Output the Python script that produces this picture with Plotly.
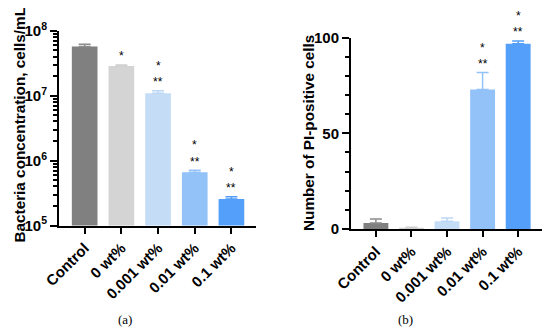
import math
import plotly.graph_objects as go

categories = ["Control", "0 wt%", "0.001 wt%", "0.01 wt%", "0.1 wt%"]
colors = ["#808080", "#d4d4d4", "#c5dcf7", "#93c2f8", "#539ff9"]
err_colors = ["#8c8c8c", "#d0d0d0", "#bcd6f5", "#93c2f8", "#539ff9"]

# (a) bacteria concentration, cells/mL
conc_values = [5.7e7, 2.87e7, 1.09e7, 6.6e5, 2.57e5]
conc_err = [0.5e7, 0.1e7, 0.1e7, 0.5e5, 0.19e5]
conc_sig_ctrl = [False, True, True, True, True]      # "*"
conc_sig_zero = [False, False, True, True, True]     # "**"
conc_ticks = [1e5, 1e6, 1e7, 1e8]
conc_ticktext = ["10<sup>5</sup>", "10<sup>6</sup>", "10<sup>7</sup>", "10<sup>8</sup>"]

# (b) number of PI-positive cells
pi_values = [3.1, 0.3, 4.0, 72.9, 96.9]
pi_err = [2.1, 0.6, 1.8, 8.9, 1.4]
pi_sig_ctrl = [False, False, False, True, True]
pi_sig_zero = [False, False, False, True, True]
pi_ticks = [0, 50, 100]

FONT = "Liberation Sans, Arial, sans-serif"
SERIF = "Liberation Serif, Times New Roman, serif"

# page body has an 8px margin: size the figure so it fits the 550x336 window
OFF = 8
W, H = 550 - 2 * OFF, 336 - 2 * OFF


def px(p):
    return min(1.0, max(0.0, (p - OFF) / W))


def py(p):
    return min(1.0, max(0.0, 1 - (p - OFF) / H))


fig = go.Figure()

for xa, ya, vals, errs in (("x", "y", conc_values, conc_err), ("x2", "y2", pi_values, pi_err)):
    for cat, v, e, c, ec in zip(categories, vals, errs, colors, err_colors):
        fig.add_trace(go.Bar(
            x=[cat], y=[v], marker=dict(color=c, line=dict(width=0)), width=0.7,
            error_y=dict(type="data", array=[e], arrayminus=[0], symmetric=False,
                         color=ec, thickness=1.5, width=6),
            xaxis=xa, yaxis=ya, showlegend=False,
        ))

annotations = []


def add_stars(xref, yref, values, errs, sig1, sig2, logscale):
    for cat, v, e, s1, s2 in zip(categories, values, errs, sig1, sig2):
        top = v + e
        yv = math.log10(top) if logscale else top
        if s1 and s2:
            marks = [("**", 8.5), ("*", 25)]
        elif s1:
            marks = [("*", 8.5)]
        else:
            marks = []
        for txt, sh in marks:
            annotations.append(dict(
                x=cat, y=yv, xref=xref, yref=yref, text=txt, showarrow=False,
                xanchor="center", yanchor="middle", yshift=sh,
                font=dict(size=12, color="black", family=FONT)))


add_stars("x", "y", conc_values, conc_err, conc_sig_ctrl, conc_sig_zero, True)
add_stars("x2", "y2", pi_values, pi_err, pi_sig_ctrl, pi_sig_zero, False)

annotations += [
    dict(text="Bacteria concentration, cells/mL", x=px(18.5), y=py(125),
         xref="paper", yref="paper", showarrow=False, textangle=-90,
         xanchor="center", yanchor="middle",
         font=dict(size=15.3, color="black", family=FONT, weight="bold")),
    dict(text="Number of PI-positive cells", x=px(308), y=py(133),
         xref="paper", yref="paper", showarrow=False, textangle=-90,
         xanchor="center", yanchor="middle",
         font=dict(size=15.3, color="black", family=FONT, weight="bold")),
    dict(text="(a)", x=px(125), y=py(319), xref="paper", yref="paper",
         xanchor="center", yanchor="middle",
         showarrow=False, font=dict(size=13, color="black", family=SERIF)),
    dict(text="(b)", x=px(405), y=py(319), xref="paper", yref="paper",
         xanchor="center", yanchor="middle",
         showarrow=False, font=dict(size=13, color="black", family=SERIF)),
]

axis_common = dict(showline=True, linecolor="black", linewidth=2, showgrid=False,
                   zeroline=False, ticks="outside", tickcolor="black", tickwidth=2,
                   automargin=False)

minor_log = [k * 10 ** e for e in range(5, 8) for k in range(2, 10)]

fig.update_layout(
    width=W, height=H,
    margin=dict(l=0, r=0, t=0, b=0, pad=0),
    paper_bgcolor="white", plot_bgcolor="white",
    font=dict(family=FONT, color="black"),
    barmode="overlay",
    xaxis=dict(domain=[px(59), px(256)], anchor="y", range=[-0.70, 4.67],
               ticklen=6, tickangle=-45,
               tickfont=dict(size=15, family=FONT, weight="bold", color="black"),
               **axis_common),
    yaxis=dict(domain=[py(225.5), py(30.7)], anchor="x", type="log",
               range=[5, 8], tickvals=conc_ticks, ticktext=conc_ticktext, ticklen=7,
               tickfont=dict(size=15, family=FONT, weight="bold", color="black"),
               minor=dict(tickvals=minor_log, ticks="outside", ticklen=4, tickwidth=1.5,
                          tickcolor="black"),
               **axis_common),
    xaxis2=dict(domain=[px(351), px(543)], anchor="y2", range=[-0.70, 4.67],
                ticklen=6, tickangle=-45,
                tickfont=dict(size=15, family=FONT, weight="bold", color="black"),
                **axis_common),
    yaxis2=dict(domain=[py(229), py(37.7)], anchor="x2",
                range=[0, 100], tickvals=pi_ticks, ticklen=7,
                tickfont=dict(size=15, family=FONT, weight="bold", color="black"),
                minor=dict(dtick=10, ticks="outside", ticklen=4, tickwidth=1.5,
                           tickcolor="black"),
                **axis_common),
    annotations=annotations,
)

fig.write_html("out.html")
